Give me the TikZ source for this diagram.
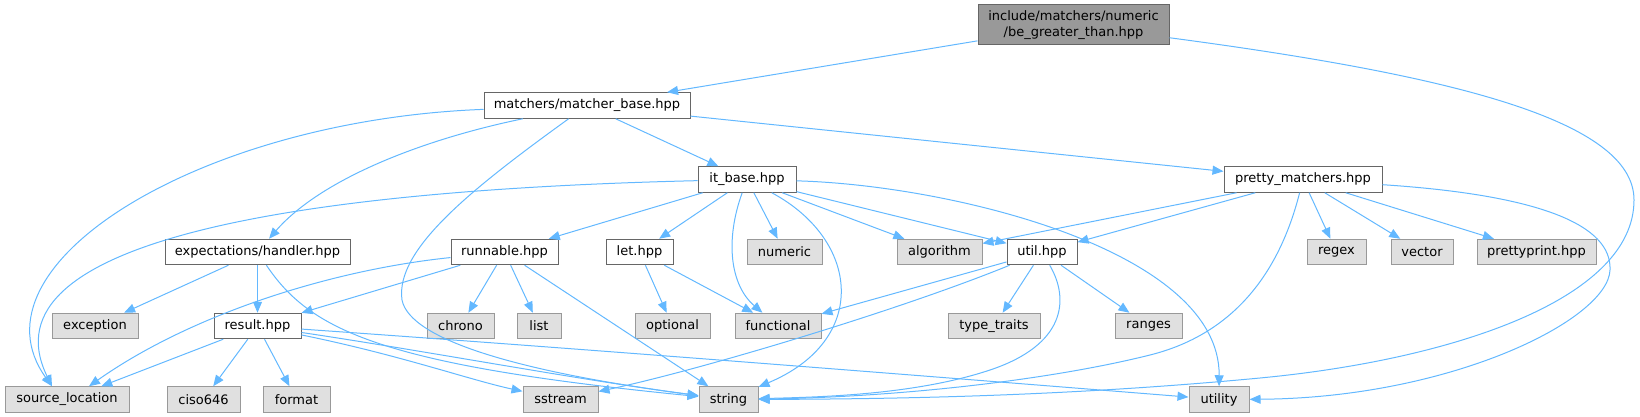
\documentclass[tikz,border=0pt]{standalone}
\usepackage{fontspec}
\setmainfont{DejaVu Sans}
\usetikzlibrary{arrows.meta}
\definecolor{edgec}{HTML}{63B8FF}
\definecolor{cE0}{HTML}{E0E0E0}
\definecolor{c999}{HTML}{999999}
\definecolor{c666}{HTML}{666666}
\newcommand\nodefont{\fontsize{13pt}{16pt}\selectfont}
\tikzset{
  base/.style={draw, line width=1pt, minimum height=25.5pt, inner sep=0pt, font=\nodefont, text=black},
  loc/.style={base, draw=c666, fill=white},
  sys/.style={base, draw=c999, fill=cE0},
  rootn/.style={base, draw=c666, fill=c999, minimum height=40pt, align=center},
  e/.style={draw=edgec, line width=1pt, -{Triangle[length=11pt,width=9pt]}}
}
\begin{document}
\begin{tikzpicture}[x=1pt,y=-1pt]
\useasboundingbox (0,0) rectangle (1640,417);
% row 0
\node[rootn, minimum width=191pt] (root) at (1073.5,25) {include/matchers/numeric\\/be\_greater\_than.hpp};
% row 1
\node[loc, minimum width=206pt] (mb) at (587,105.5) {matchers/matcher\_base.hpp};
% row 2
\node[loc, minimum width=98pt] (itb) at (747,179.5) {it\_base.hpp};
\node[loc, minimum width=158pt] (pm) at (1303,179.5) {pretty\_matchers.hpp};
% row 3
\node[loc, minimum width=185pt] (hdl) at (257.5,252) {expectations/handler.hpp};
\node[loc, minimum width=107pt] (run) at (504.5,252) {runnable.hpp};
\node[loc, minimum width=67pt] (let) at (639.5,252) {let.hpp};
\node[sys, minimum width=75pt] (num) at (784.5,252) {numeric};
\node[sys, minimum width=85pt] (alg) at (939.5,252) {algorithm};
\node[loc, minimum width=70pt] (util) at (1042,252) {util.hpp};
\node[sys, minimum width=59pt] (regex) at (1336.5,252) {regex};
\node[sys, minimum width=62pt] (vector) at (1422,252) {vector};
\node[sys, minimum width=119pt] (pp) at (1536.5,252) {prettyprint.hpp};
% row 4
\node[sys, minimum width=86pt] (exc) at (95,326) {exception};
\node[loc, minimum width=87pt] (res) at (257.5,326) {result.hpp};
\node[sys, minimum width=67pt] (chrono) at (460.5,326) {chrono};
\node[sys, minimum width=44pt] (list) at (539,326) {list};
\node[sys, minimum width=75pt] (opt) at (672.5,326) {optional};
\node[sys, minimum width=86pt] (func) at (778,326) {functional};
\node[sys, minimum width=92pt] (tt) at (994,326) {type\_traits};
\node[sys, minimum width=67pt] (ranges) at (1148.5,326) {ranges};
% row 5
\node[sys, minimum width=124pt] (sl) at (67,399.5) {source\_location};
\node[sys, minimum width=73pt] (ciso) at (203.5,399.5) {ciso646};
\node[sys, minimum width=67pt] (fmt) at (296.5,399.5) {format};
\node[sys, minimum width=75pt] (sst) at (560.5,399.5) {sstream};
\node[sys, minimum width=59pt] (str) at (728.5,399.5) {string};
\node[sys, minimum width=60pt] (utl) at (1219,399.5) {utility};

% root
\draw[e] (root) -- (mb);
\draw[e] (root) .. controls (1450,75) and (1634,120) .. (1634,200) .. controls (1634,300) and (1450,360) .. (1260,378) .. controls (1070,396) and (900,399) .. (str);
% matcher_base
\draw[e] (mb) -- (itb);
\draw[e] (mb) -- (pm);
\draw[e] (mb) .. controls (200,120) and (-35,265) .. ([xshift=-15pt]sl.north);
\draw[e] (mb) .. controls (420,140) and (320,180) .. (hdl);
\draw[e] (mb) .. controls (470,190) and (395,250) .. (402,300) .. controls (410,340) and (520,372) .. (str);
% it_base
\draw[e] (itb) .. controls (300,190) and (-20,240) .. ([xshift=-15pt]sl.north);
\draw[e] (itb) -- (run);
\draw[e] (itb) -- (let);
\draw[e] (itb) .. controls (725,240) and (730,285) .. (func);
\draw[e] (itb) -- (num);
\draw[e] (itb) .. controls (860,240) and (870,340) .. (str);
\draw[e] (itb) -- (alg);
\draw[e] (itb) -- (util);
\draw[e] (itb) .. controls (950,185) and (1220,250) .. (utl);
% pretty_matchers
\draw[e] (pm) -- (alg);
\draw[e] (pm) -- (util);
\draw[e] (pm) .. controls (1285,250) and (1250,330) .. (1150,355) .. controls (1050,380) and (900,397) .. (str);
\draw[e] (pm) -- (regex);
\draw[e] (pm) -- (vector);
\draw[e] (pm) -- (pp);
\draw[e] (pm) .. controls (1540,195) and (1612,225) .. (1610,270) .. controls (1608,320) and (1450,398) .. (utl);
% handler
\draw[e] (hdl) -- (exc);
\draw[e] (hdl) -- (res);
\draw[e] (hdl) .. controls (310,330) and (380,365) .. (str);
% runnable
\draw[e] (run) .. controls (330,270) and (190,315) .. ([xshift=22pt]sl.north);
\draw[e] (run) -- (res);
\draw[e] (run) -- (chrono);
\draw[e] (run) -- (list);
\draw[e] (run) -- (str);
% let
\draw[e] (let) -- (opt);
\draw[e] (let) -- (func);
% util
\draw[e] (util) -- (func);
\draw[e] (util) .. controls (900,310) and (700,370) .. (sst);
\draw[e] (util) -- (tt);
\draw[e] (util) -- (ranges);
\draw[e] (util) .. controls (1070,300) and (1065,345) .. (990,370) .. controls (915,395) and (820,397) .. (str);
% result
\draw[e] (res) -- (sl);
\draw[e] (res) -- (ciso);
\draw[e] (res) -- (fmt);
\draw[e] (res) .. controls (400,355) and (470,380) .. (sst);
\draw[e] (res) .. controls (420,350) and (580,380) .. (str);
\draw[e] (res) .. controls (600,350) and (950,378) .. (utl);
\end{tikzpicture}
\end{document}
